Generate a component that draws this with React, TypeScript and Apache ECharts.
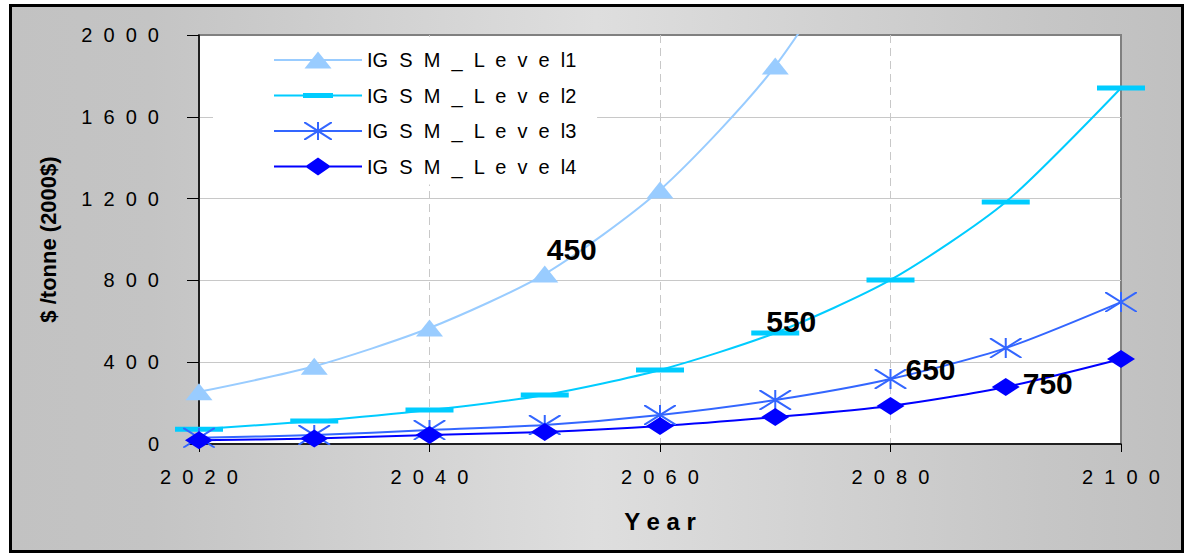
import React, { useEffect, useRef } from "react";
import * as echarts from "echarts";

const years = [2020, 2030, 2040, 2050, 2060, 2070, 2080, 2090, 2100];
const seriesNames = ["IGSM_Level1", "IGSM_Level2", "IGSM_Level3", "IGSM_Level4"];
const legendLabels = ["IG  S  M  _  L  e  v  e  l1", "IG  S  M  _  L  e  v  e  l2", "IG  S  M  _  L  e  v  e  l3", "IG  S  M  _  L  e  v  e  l4"];
const level1 = [255, 380, 567, 831, 1242, 1848, 2750, 4100, 6100];
const level2 = [72, 112, 166, 240, 362, 543, 802, 1183, 1741];
const level3 = [30, 44, 68, 93, 142, 215, 318, 469, 694];
const level4 = [18, 27, 44, 59, 88, 132, 186, 279, 416];
const annotationTexts = ["450", "550", "650", "750"];
const annotationYears = [2050, 2070, 2080, 2090];
const xTicks = { min: 2020, max: 2100, interval: 20 };
const yTicks = { min: 0, max: 2000, interval: 400 };
const xTitle = "Y e a r";
const yTitle = "$ /tonne (2000$)";

const FONT = "'Liberation Sans', Arial, sans-serif";
const colors = ["#99CCFF", "#00CCFF", "#3366FF", "#0000FF"];
const labelOffsets = [
  [2, -25],
  [-9, -11],
  [15, -9],
  [17, -3],
];

function asteriskPath(x0: number, y0: number, w: number, h: number, t: number) {
  const hv = ((t / 2) * Math.sqrt(w * w + h * h)) / w;
  const dx = (hv * w) / h;
  const cx = x0 + w / 2;
  const p = (a: number[][]) => "M" + a.map((q) => q[0].toFixed(2) + " " + q[1].toFixed(2)).join(" L") + " Z";
  const vert = p([[cx - t / 2, y0], [cx + t / 2, y0], [cx + t / 2, y0 + h], [cx - t / 2, y0 + h]]);
  const d1 = p([[x0, y0], [x0 + dx, y0], [x0 + w, y0 + h - hv], [x0 + w, y0 + h], [x0 + w - dx, y0 + h], [x0, y0 + hv]]);
  const d2 = p([[x0, y0 + h], [x0, y0 + h - hv], [x0 + w - dx, y0], [x0 + w, y0], [x0 + w, y0 + hv], [x0 + dx, y0 + h]]);
  return vert + " " + d1 + " " + d2;
}

const lineBar = "M0 8.1 L88 8.1 L88 9.9 L0 9.9 Z";
const legendIcons = [
  "path://" + lineBar + " M30.5 17.5 L44 0.5 L57.5 17.5 Z",
  "path://" + lineBar + " M29 6.5 L59 6.5 L59 11.5 L29 11.5 Z",
  "path://" + lineBar + " " + asteriskPath(30, 0, 28, 18, 2),
  "path://" + lineBar + " M31 9 L44 0 L57 9 L44 18 Z",
];
const symbols = ["triangle", "rect", "path://" + asteriskPath(0, 0, 32, 20, 2), "diamond"];
const symbolSizes = [
  [27, 17],
  [48, 5],
  [32, 20],
  [28, 18],
];

const spaced = (v: number | string) => String(v).split("").join("  ");

export default function App() {
  const ref = useRef<HTMLDivElement>(null);
  useEffect(() => {
    if (!ref.current) return;
    const chart = echarts.init(ref.current, undefined, { renderer: "svg" });
    const allValues = [level1, level2, level3, level4];
    const series = allValues.map((vals, si) => ({
      name: seriesNames[si],
      type: "line",
      smooth: 0.25,
      symbol: symbols[si],
      symbolSize: symbolSizes[si],
      lineStyle: { color: colors[si], width: 2 },
      itemStyle: { color: colors[si] },
      clip: true,
      data: years.map((y, i) => {
        const item: any = { value: [y, vals[i]] };
        if (y === annotationYears[si]) {
          item.label = {
            show: true,
            formatter: annotationTexts[si],
            position: "inside",
            align: "left",
            verticalAlign: "middle",
            offset: labelOffsets[si],
            fontFamily: FONT,
            fontWeight: "bold",
            fontSize: 30,
            color: "#000",
          };
        }
        return item;
      }),
    }));
    chart.setOption({
      animation: false,
      backgroundColor: "#fff",
      graphic: [
        {
          type: "rect",
          z: -100,
          shape: { x: 10.5, y: 5.5, width: 1172, height: 546 },
          style: {
            fill: new echarts.graphic.LinearGradient(0, 0, 1, 0, [
              { offset: 0, color: "#c2c2c2" },
              { offset: 0.12, color: "#c4c4c4" },
              { offset: 0.5, color: "#dedede" },
              { offset: 0.88, color: "#c6c6c6" },
              { offset: 1, color: "#c0c0c0" },
            ]),
            stroke: "#000",
            lineWidth: 3,
          },
        },
      ],
      grid: {
        left: 199,
        top: 35,
        right: 65,
        bottom: 109,
        show: true,
        backgroundColor: "#fff",
        borderColor: "#808080",
        borderWidth: 2,
      },
      legend: {
        orient: "vertical",
        left: 213,
        top: 37,
        padding: [13, 20, 8, 61],
        backgroundColor: "#fff",
        itemWidth: 88,
        itemHeight: 18,
        itemGap: 15.5,
        selectedMode: false,
        data: seriesNames.map((n, i) => ({ name: n, icon: legendIcons[i], itemStyle: { color: colors[i], borderWidth: 0 } })),
        formatter: (name: string) => legendLabels[seriesNames.indexOf(name)],
        textStyle: { fontFamily: FONT, fontSize: 20, color: "#000" },
      },
      xAxis: {
        type: "value",
        min: xTicks.min,
        max: xTicks.max,
        interval: xTicks.interval,
        name: xTitle,
        nameLocation: "middle",
        nameGap: 65,
        nameTextStyle: { fontFamily: FONT, fontWeight: "bold", fontSize: 24, color: "#000" },
        axisLine: { show: true, lineStyle: { color: "#000", width: 1.5 } },
        axisTick: { show: true, length: 8, lineStyle: { color: "#000" } },
        axisLabel: { formatter: spaced, fontFamily: FONT, fontSize: 20, color: "#000", margin: 23 },
        splitLine: { show: true, showMinLine: false, showMaxLine: false, lineStyle: { color: "#c8c8c8", type: [8, 5], width: 1 } },
      },
      yAxis: {
        type: "value",
        min: yTicks.min,
        max: yTicks.max,
        interval: yTicks.interval,
        name: yTitle,
        nameLocation: "middle",
        nameRotate: 90,
        nameGap: 140,
        nameTextStyle: { fontFamily: FONT, fontWeight: "bold", fontSize: 22, color: "#000" },
        axisLine: { show: true, lineStyle: { color: "#000", width: 1.5 } },
        axisTick: { show: true, length: 12, lineStyle: { color: "#000" } },
        axisLabel: { formatter: spaced, fontFamily: FONT, fontSize: 20, color: "#000", margin: 40 },
        splitLine: { show: true, showMinLine: false, showMaxLine: false, lineStyle: { color: "#c8c8c8", width: 1 } },
      },
      series,
    });
    return () => chart.dispose();
  }, []);
  return <div ref={ref} style={{ position: "absolute", left: 0, top: 0, width: 1186, height: 553 }} />;
}
